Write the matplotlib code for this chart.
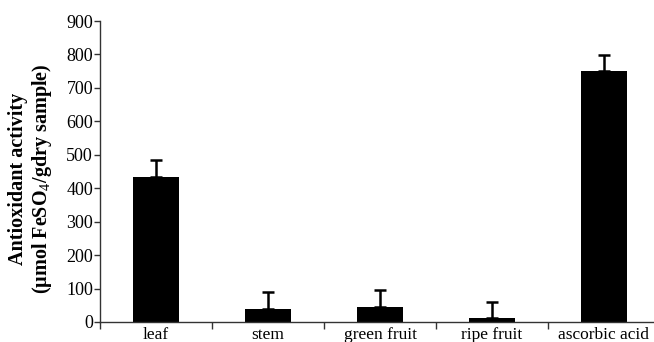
import matplotlib
matplotlib.use("Agg")
import matplotlib.pyplot as plt
import numpy as np

categories = ["leaf", "stem", "green fruit", "ripe fruit", "ascorbic acid"]
values = [433, 39, 45, 11, 750]
errors = [50, 50, 50, 50, 48]
yticks = [0, 100, 200, 300, 400, 500, 600, 700, 800, 900]

plt.rcParams['font.family'] = ['Liberation Serif', 'DejaVu Serif']
plt.rcParams['mathtext.fontset'] = 'custom'
plt.rcParams['mathtext.rm'] = 'Liberation Serif'
plt.rcParams['mathtext.bf'] = 'Liberation Serif:bold'
plt.rcParams['mathtext.it'] = 'Liberation Serif:italic:bold'

fig = plt.figure(figsize=(6.54, 3.42), dpi=100)
ax = fig.add_axes([100/654, 20/342, 560/654, 301/342])

x = np.arange(len(categories))
ax.bar(x, values, width=0.41, color='black', zorder=2)
ax.errorbar(x, values, yerr=[np.zeros(len(errors)), errors], fmt='none',
            ecolor='black', elinewidth=1.8, capsize=4.5, capthick=1.8, zorder=1)

ax.set_xlim(-0.5, len(categories) - 0.5)
ax.set_ylim(0, 900)
ax.set_yticks(yticks)
ax.set_xticks(x)
ax.set_xticklabels(categories, fontsize=12.5)
ax.set_xticks(np.arange(len(categories) + 1) - 0.5, minor=True)
ax.tick_params(axis='x', which='major', length=0, pad=3.5)
ax.tick_params(axis='x', which='minor', length=5, width=1, direction='out', color='#333333')
ax.tick_params(axis='y', length=4, width=1, direction='out', labelsize=13, pad=1, color='#333333')

for s in ['top', 'right']:
    ax.spines[s].set_visible(False)
for s in ['left', 'bottom']:
    ax.spines[s].set_linewidth(1.0)
    ax.spines[s].set_color('#333333')

ax.set_ylabel("Antioxidant activity\n(\u00b5mol FeSO$_{4}$/gdry sample)",
              fontsize=14.5, fontweight='bold', linespacing=1.1)
ax.yaxis.set_label_coords(-0.082, 0.475)

fig.savefig("out.png", dpi=100)
